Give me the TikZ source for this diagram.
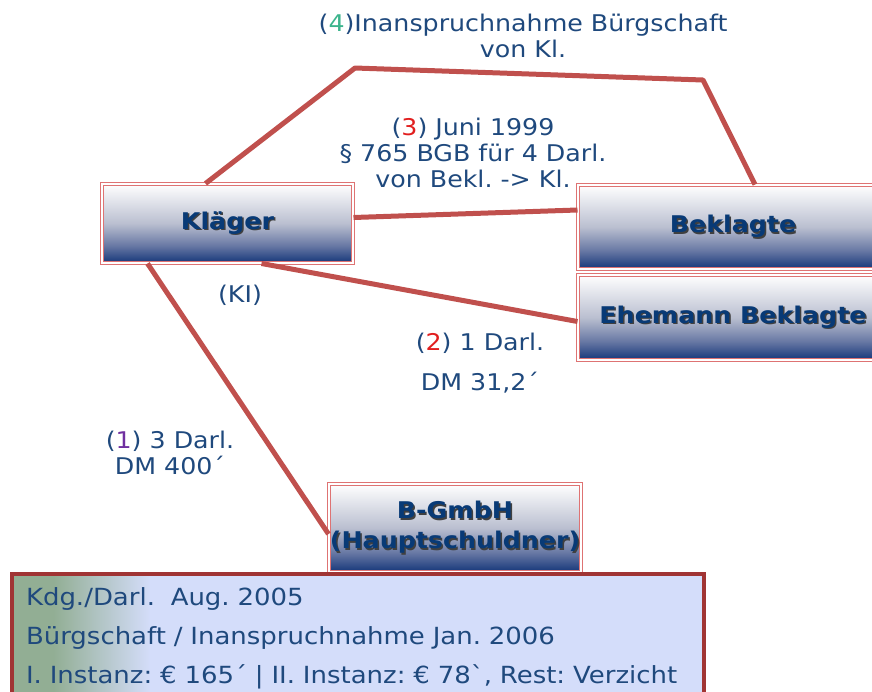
\documentclass[tikz,border=0pt]{standalone}
\usepackage{fontspec}
\setmainfont{DejaVu Sans}[FakeStretch=1.1]
\usepackage{tikz}

\definecolor{txtblue}{RGB}{31,73,125}
\definecolor{boxtext}{RGB}{8,58,118}
\definecolor{boxred}{RGB}{222,115,115}
\definecolor{boxmid}{RGB}{186,191,208}
\definecolor{boxlow}{RGB}{104,120,164}
\definecolor{boxnavy}{RGB}{28,60,125}
\definecolor{lnred}{RGB}{192,80,77}
\definecolor{inforim}{RGB}{160,52,52}
\definecolor{sage}{RGB}{146,174,148}
\definecolor{peri}{RGB}{212,221,250}
\definecolor{numgreen}{RGB}{60,180,140}
\definecolor{numred}{RGB}{225,30,30}
\definecolor{numpurple}{RGB}{112,48,160}

\pgfdeclarehorizontalshading{infoshade}{100bp}{color(0bp)=(sage); color(25bp)=(sage); color(28bp)=(sage); color(35bp)=(peri); color(100bp)=(peri)}
\pgfdeclareverticalshading{partyshade}{100bp}{color(0bp)=(boxnavy); color(26bp)=(boxnavy); color(36bp)=(boxlow); color(50bp)=(boxmid); color(75bp)=(white); color(100bp)=(white)}

\newcommand\shadowtxt[1]{\leavevmode\rlap{\kern1.5pt\raisebox{-1.5pt}{\color{black!75}#1}}#1}

\begin{document}
\frenchspacing
\begin{tikzpicture}[
  x=1pt, y=-1pt,
  party/.style={draw=boxred, double=white, double distance=1.6pt, line width=1pt,
    shading=partyshade,
    text=boxtext, font=\bfseries\fontsize{23}{30}\selectfont, align=center, inner sep=0pt},
  link/.style={draw=lnred, line width=5pt},
  lbl/.style={text=txtblue, align=center, inner sep=0pt, font=\fontsize{23}{26}\selectfont},
  info/.style={draw=inforim, line width=4pt, shading=infoshade, text=txtblue,
    align=left, text width=664pt, inner xsep=14pt, minimum height=128pt,
    font=\fontsize{23.6}{39}\selectfont}
]
\useasboundingbox (0,0) rectangle (872,691);
\clip (0,0) rectangle (872,691);

% parties
\node[party, minimum width=251pt, minimum height=79pt] (klaeger) at (227.5,223.5) {\shadowtxt{Kläger}};
\node[party, minimum width=310pt, minimum height=84pt] (beklagte) at (733,227) {\shadowtxt{Beklagte}};
\node[party, minimum width=310pt, minimum height=85pt] (ehemann) at (733,317.5) {\shadowtxt{Ehemann Beklagte}};
\node[party, minimum width=252pt, minimum height=88pt] (bgmbh) at (455,528) {\shadowtxt{B-GmbH}\\\shadowtxt{(Hauptschuldner)}};

% connections
\coordinate (bendL) at (355,68);
\coordinate (bendR) at (703,80);
\draw[link] ([xshift=-80pt]klaeger.south) -- ([yshift=-6pt]bgmbh.west);
\draw[link] ([xshift=34pt]klaeger.south) -- ([yshift=-4pt]ehemann.west);
\draw[link] ([yshift=6pt]klaeger.east) -- ([yshift=17pt]beklagte.west);
\draw[link, line join=round] ([xshift=-22pt]klaeger.north) -- (bendL) -- (bendR) -- ([xshift=22pt]beklagte.north);

% labels
\node[lbl] (lbl4) at (523,36) {(\textcolor{numgreen}{4})Inanspruchnahme Bürgschaft\\von Kl.};
\node[lbl] (lbl3) at (473,153) {(\textcolor{numred}{3}) Juni 1999\\§ 765 BGB für 4 Darl.\\von Bekl. -> Kl.};
\node[lbl] (kl) at (240,295) {(KI)};
\node[lbl] (lbl2) at (480,363) {(\textcolor{numred}{2}) 1 Darl.\\[14pt]DM 31,2´};
\node[lbl] (lbl1) at (170,453) {(\textcolor{numpurple}{1}) 3 Darl.\\DM 400´};

% facts
\node[info, anchor=north west] (facts) at (10,572) {Kdg./Darl.\ \ Aug. 2005\\
Bürgschaft / Inanspruchnahme Jan. 2006\\
I. Instanz: € 165´ | II. Instanz: € 78ˋ, Rest: Verzicht};
\end{tikzpicture}
\end{document}
